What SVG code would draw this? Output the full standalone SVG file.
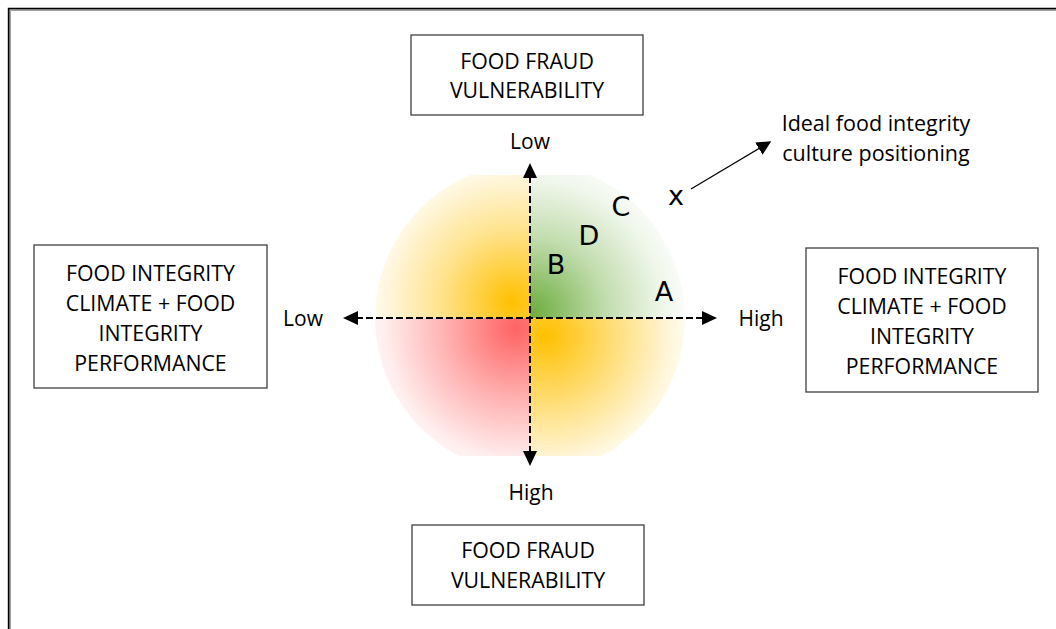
<svg xmlns="http://www.w3.org/2000/svg" width="1056" height="629" viewBox="0 0 1056 629">
  <style>
    .box { fill: #ffffff; stroke: #404040; stroke-width: 1.3; }
    .lbl { font-family: "Open Sans", "Noto Sans", sans-serif; font-size: 21.3px; fill: #000000; text-anchor: middle; }
    .ax { font-family: "Open Sans", "Noto Sans", sans-serif; font-size: 21px; fill: #000000; text-anchor: middle; }
    .note { font-family: "Open Sans", "Noto Sans", sans-serif; font-size: 21.5px; fill: #000000; text-anchor: middle; }
    .pt { font-family: "DejaVu Sans", "Open Sans", sans-serif; font-size: 27px; fill: #000000; text-anchor: middle; }
    .axis { stroke: #000000; stroke-width: 2; stroke-dasharray: 7 3; fill: none; }
  </style>
  <defs>
    <marker id="tri2" viewBox="0 0 10 10" refX="9" refY="5" markerWidth="12" markerHeight="12" markerUnits="strokeWidth" orient="auto">
      <path d="M0,0 L10,5 L0,10 Z" fill="#000000"/>
    </marker>
    <clipPath id="blob">
      <circle cx="530" cy="318" r="155"/>
    </clipPath>
    <clipPath id="band">
      <rect x="370" y="175" width="320" height="281"/>
    </clipPath>
    <radialGradient id="gTL" gradientUnits="userSpaceOnUse" cx="512" cy="302" r="160">
      <stop offset="0" stop-color="#FFC000" stop-opacity="1"/>
      <stop offset="0.45" stop-color="#FFC000" stop-opacity="0.45"/>
      <stop offset="0.8" stop-color="#FFC000" stop-opacity="0.12"/>
      <stop offset="1" stop-color="#FFC000" stop-opacity="0"/>
    </radialGradient>
    <radialGradient id="gTR" gradientUnits="userSpaceOnUse" cx="532" cy="312" r="165">
      <stop offset="0" stop-color="#6EAD3F" stop-opacity="1"/>
      <stop offset="0.45" stop-color="#6EAD3F" stop-opacity="0.42"/>
      <stop offset="0.8" stop-color="#6EAD3F" stop-opacity="0.1"/>
      <stop offset="1" stop-color="#6EAD3F" stop-opacity="0"/>
    </radialGradient>
    <radialGradient id="gBL" gradientUnits="userSpaceOnUse" cx="516" cy="328" r="165">
      <stop offset="0" stop-color="#FF5A5A" stop-opacity="0.95"/>
      <stop offset="0.45" stop-color="#FF5A5A" stop-opacity="0.45"/>
      <stop offset="0.8" stop-color="#FF5A5A" stop-opacity="0.1"/>
      <stop offset="1" stop-color="#FF5A5A" stop-opacity="0"/>
    </radialGradient>
    <radialGradient id="gBR" gradientUnits="userSpaceOnUse" cx="546" cy="336" r="160">
      <stop offset="0" stop-color="#FFC000" stop-opacity="1"/>
      <stop offset="0.45" stop-color="#FFC000" stop-opacity="0.5"/>
      <stop offset="0.8" stop-color="#FFC000" stop-opacity="0.12"/>
      <stop offset="1" stop-color="#FFC000" stop-opacity="0"/>
    </radialGradient>
  </defs>

  <rect width="1056" height="629" fill="#ffffff"/>

  <!-- page frame, running off the right and bottom edges -->
  <g id="frame" fill="none">
    <path d="M10.5,640 V10.5 H1070" stroke="#a0a0a0" stroke-width="1"/>
    <path d="M8.7,640 V8.7 H1070" stroke="#000000" stroke-width="1.8"/>
  </g>

  <!-- four shaded quadrants -->
  <g id="quadrants" clip-path="url(#band)">
    <g clip-path="url(#blob)">
      <rect x="370" y="160" width="160" height="158" fill="url(#gTL)"/>
      <rect x="530" y="160" width="160" height="158" fill="url(#gTR)"/>
      <rect x="370" y="318" width="160" height="150" fill="url(#gBL)"/>
      <rect x="530" y="318" width="160" height="150" fill="url(#gBR)"/>
    </g>
  </g>

  <!-- boxes -->
  <g id="fraud-top">
    <rect class="box" x="411" y="35" width="232" height="80"/>
    <text class="lbl" x="527" y="69">FOOD FRAUD</text>
    <text class="lbl" x="527" y="98">VULNERABILITY</text>
  </g>
  <g id="fraud-bottom">
    <rect class="box" x="412" y="525" width="232" height="80"/>
    <text class="lbl" x="528" y="558">FOOD FRAUD</text>
    <text class="lbl" x="528" y="588">VULNERABILITY</text>
  </g>
  <g id="climate-left">
    <rect class="box" x="34" y="245" width="233" height="143"/>
    <text class="lbl" x="150.5" y="281">FOOD INTEGRITY</text>
    <text class="lbl" x="150.5" y="311">CLIMATE + FOOD</text>
    <text class="lbl" x="150.5" y="341">INTEGRITY</text>
    <text class="lbl" x="150.5" y="371">PERFORMANCE</text>
  </g>
  <g id="climate-right">
    <rect class="box" x="806" y="248" width="232" height="144"/>
    <text class="lbl" x="922" y="284">FOOD INTEGRITY</text>
    <text class="lbl" x="922" y="314">CLIMATE + FOOD</text>
    <text class="lbl" x="922" y="344">INTEGRITY</text>
    <text class="lbl" x="922" y="374">PERFORMANCE</text>
  </g>

  <!-- axis end labels -->
  <g id="axis-labels">
    <text class="ax" x="530" y="149">Low</text>
    <text class="ax" x="531" y="500">High</text>
    <text class="ax" x="303" y="326">Low</text>
    <text class="ax" x="761" y="326">High</text>
  </g>

  <!-- positions -->
  <g id="points">
    <text class="pt" x="556" y="274">B</text>
    <text class="pt" x="589" y="245">D</text>
    <text class="pt" x="621" y="216">C</text>
    <text class="pt" x="664" y="301">A</text>
    <text class="pt" x="676" y="205">x</text>
  </g>

  <g id="ideal-note">
    <text class="note" x="876" y="131">Ideal food integrity</text>
    <text class="note" x="876" y="161">culture positioning</text>
  </g>

  <!-- connectors: dashed axes with filled arrowheads at both ends -->
  <g id="connectors">
    <line class="axis" x1="530" y1="176" x2="530" y2="452"/>
    <line class="axis" x1="356" y1="318" x2="704" y2="318"/>
    <path d="M530,163 l-7,15 h14 z" fill="#000"/>
    <path d="M530,466 l-7,-15 h14 z" fill="#000"/>
    <path d="M343,318 l15,-7 v14 z" fill="#000"/>
    <path d="M717,318 l-15,-7 v14 z" fill="#000"/>
    <line x1="691" y1="189" x2="770" y2="142" stroke="#000" stroke-width="1.2" marker-end="url(#tri2)"/>
  </g>
</svg>
